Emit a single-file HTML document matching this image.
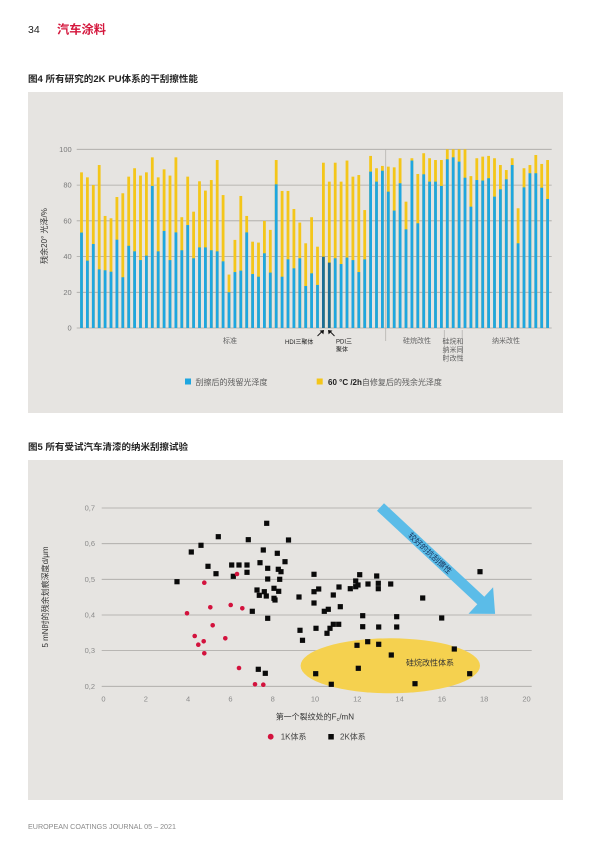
<!DOCTYPE html>
<html><head><meta charset="utf-8"><style>
html,body{margin:0;padding:0;background:#fff;}
svg{display:block;}
text{font-family:"Liberation Sans","Noto Sans CJK SC",sans-serif;}
</style></head><body>
<svg width="600" height="849" viewBox="0 0 600 849" xmlns="http://www.w3.org/2000/svg">
<rect width="600" height="849" fill="#fff"/>
<!-- header -->
<text x="28" y="33" font-size="10.5" fill="#222">34</text>
<text x="57" y="33.5" font-size="12" font-weight="bold" fill="#d4163c" textLength="49" lengthAdjust="spacingAndGlyphs">汽车涂料</text>
<text x="28" y="82" font-size="9" font-weight="bold" fill="#222" textLength="170" lengthAdjust="spacingAndGlyphs">图4 所有研究的2K PU体系的干刮擦性能</text>

<!-- panel 1 -->
<rect x="28" y="92" width="535" height="321" fill="#e6e4e1"/>
<g stroke="#a9a7a4" stroke-width="0.8">
<line x1="76.7" y1="328" x2="551.7" y2="328"/>
<line x1="76.7" y1="292.3" x2="551.7" y2="292.3"/>
<line x1="76.7" y1="256.6" x2="551.7" y2="256.6"/>
<line x1="76.7" y1="220.8" x2="551.7" y2="220.8"/>
<line x1="76.7" y1="185.1" x2="551.7" y2="185.1"/>
<line x1="76.7" y1="149.3" x2="551.7" y2="149.3"/>
</g>
<g stroke="#b5b3b0" stroke-width="0.8">
<line x1="385.7" y1="149" x2="385.7" y2="341"/>
<line x1="444.3" y1="330" x2="444.3" y2="362"/>
<line x1="462.2" y1="330" x2="462.2" y2="362"/>
</g>
<g font-size="7.5" fill="#7a7a7a" text-anchor="end">
<text x="71.7" y="330.5">0</text>
<text x="71.7" y="294.8">20</text>
<text x="71.7" y="259.1">40</text>
<text x="71.7" y="223.3">60</text>
<text x="71.7" y="187.6">80</text>
<text x="71.7" y="151.8">100</text>
</g>
<text transform="translate(47,236) rotate(-90)" font-size="8" fill="#333" text-anchor="middle">残余20° 光泽/%</text>

<!-- bars: yellow (total) -->
<g transform="translate(0,328) scale(1,-1.787)">
<g fill="#f4c619">
<rect x="80.1" width="2.8" height="87.1"/><rect x="86.0" width="2.8" height="84.3"/><rect x="91.9" width="2.8" height="80"/><rect x="97.8" width="2.8" height="91.2"/><rect x="103.7" width="2.8" height="62.7"/><rect x="109.6" width="2.8" height="61.4"/><rect x="115.5" width="2.8" height="73.3"/><rect x="121.4" width="2.8" height="75.4"/><rect x="127.3" width="2.8" height="84.7"/><rect x="133.2" width="2.8" height="89.4"/>
<rect x="139.1" width="2.8" height="85.3"/><rect x="145.0" width="2.8" height="87.1"/><rect x="150.9" width="2.8" height="95.5"/><rect x="156.8" width="2.8" height="84.3"/><rect x="162.7" width="2.8" height="88.8"/><rect x="168.6" width="2.8" height="85.3"/><rect x="174.5" width="2.8" height="95.5"/><rect x="180.4" width="2.8" height="62"/><rect x="186.3" width="2.8" height="84.7"/><rect x="192.2" width="2.8" height="65.1"/>
<rect x="198.1" width="2.8" height="82.1"/><rect x="204.0" width="2.8" height="76.9"/><rect x="209.9" width="2.8" height="82.8"/><rect x="215.8" width="2.8" height="94"/><rect x="221.7" width="2.8" height="74.4"/><rect x="227.6" width="2.8" height="29.9"/><rect x="233.5" width="2.8" height="49.3"/><rect x="239.4" width="2.8" height="73.9"/><rect x="245.3" width="2.8" height="62.7"/><rect x="251.2" width="2.8" height="48.3"/>
<rect x="257.1" width="2.8" height="47.8"/><rect x="263.0" width="2.8" height="59.9"/><rect x="268.9" width="2.8" height="54.9"/><rect x="274.8" width="2.8" height="94"/><rect x="280.7" width="2.8" height="76.7"/><rect x="286.6" width="2.8" height="76.7"/><rect x="292.5" width="2.8" height="66.6"/><rect x="298.4" width="2.8" height="59"/><rect x="304.3" width="2.8" height="47.4"/><rect x="310.2" width="2.8" height="62"/>
<rect x="316.1" width="2.8" height="45.5"/><rect x="322.0" width="2.8" height="92.5"/><rect x="327.9" width="2.8" height="81.9"/><rect x="333.8" width="2.8" height="92.5"/><rect x="339.7" width="2.8" height="81.9"/><rect x="345.6" width="2.8" height="93.7"/><rect x="351.5" width="2.8" height="84.7"/><rect x="357.4" width="2.8" height="85.6"/><rect x="363.3" width="2.8" height="66"/><rect x="369.2" width="2.8" height="96.3"/>
<rect x="375.1" width="2.8" height="89.4"/><rect x="381.0" width="2.8" height="90.7"/><rect x="386.9" width="2.8" height="90.3"/><rect x="392.8" width="2.8" height="89.9"/><rect x="398.7" width="2.8" height="95"/><rect x="404.6" width="2.8" height="70.7"/><rect x="410.5" width="2.8" height="95"/><rect x="416.4" width="2.8" height="86.2"/><rect x="422.3" width="2.8" height="97.8"/><rect x="428.2" width="2.8" height="95"/>
<rect x="434.1" width="2.8" height="94"/><rect x="440.0" width="2.8" height="94"/><rect x="445.9" width="2.8" height="100"/><rect x="451.8" width="2.8" height="100"/><rect x="457.7" width="2.8" height="100"/><rect x="463.6" width="2.8" height="100"/><rect x="469.5" width="2.8" height="85"/><rect x="475.4" width="2.8" height="95"/><rect x="481.3" width="2.8" height="95.9"/><rect x="487.2" width="2.8" height="96.3"/>
<rect x="493.1" width="2.8" height="95"/><rect x="499.0" width="2.8" height="91.2"/><rect x="504.9" width="2.8" height="88.4"/><rect x="510.8" width="2.8" height="95"/><rect x="516.7" width="2.8" height="67"/><rect x="522.6" width="2.8" height="89.4"/><rect x="528.5" width="2.8" height="91.2"/><rect x="534.4" width="2.8" height="96.8"/><rect x="540.3" width="2.8" height="91.8"/><rect x="546.2" width="2.8" height="94"/>
</g>
<g fill="#1ea6e0">
<rect x="80.1" width="2.8" height="53.4"/><rect x="86.0" width="2.8" height="37.7"/><rect x="91.9" width="2.8" height="47"/><rect x="97.8" width="2.8" height="32.8"/><rect x="103.7" width="2.8" height="32.3"/><rect x="109.6" width="2.8" height="31.5"/><rect x="115.5" width="2.8" height="49.4"/><rect x="121.4" width="2.8" height="28.4"/><rect x="127.3" width="2.8" height="46"/><rect x="133.2" width="2.8" height="42.9"/>
<rect x="139.1" width="2.8" height="38"/><rect x="145.0" width="2.8" height="40.5"/><rect x="150.9" width="2.8" height="79.5"/><rect x="156.8" width="2.8" height="42.9"/><rect x="162.7" width="2.8" height="54.3"/><rect x="168.6" width="2.8" height="38"/><rect x="174.5" width="2.8" height="53.5"/><rect x="180.4" width="2.8" height="43.5"/><rect x="186.3" width="2.8" height="57.6"/><rect x="192.2" width="2.8" height="39"/>
<rect x="198.1" width="2.8" height="45.1"/><rect x="204.0" width="2.8" height="45.1"/><rect x="209.9" width="2.8" height="43.5"/><rect x="215.8" width="2.8" height="42.9"/><rect x="221.7" width="2.8" height="37.3"/><rect x="227.6" width="2.8" height="20"/><rect x="233.5" width="2.8" height="31.3"/><rect x="239.4" width="2.8" height="32.1"/><rect x="245.3" width="2.8" height="53.5"/><rect x="251.2" width="2.8" height="30.2"/>
<rect x="257.1" width="2.8" height="28.7"/><rect x="263.0" width="2.8" height="41.8"/><rect x="268.9" width="2.8" height="31"/><rect x="274.8" width="2.8" height="80.4"/><rect x="280.7" width="2.8" height="28.7"/><rect x="286.6" width="2.8" height="38.4"/><rect x="292.5" width="2.8" height="33.4"/><rect x="298.4" width="2.8" height="39"/><rect x="304.3" width="2.8" height="23.5"/><rect x="310.2" width="2.8" height="30.6"/>
<rect x="316.1" width="2.8" height="24.1"/><rect x="333.8" width="2.8" height="39"/><rect x="339.7" width="2.8" height="35.8"/><rect x="345.6" width="2.8" height="39.4"/><rect x="351.5" width="2.8" height="38"/><rect x="357.4" width="2.8" height="31.3"/><rect x="363.3" width="2.8" height="38.4"/><rect x="369.2" width="2.8" height="87.5"/>
<rect x="375.1" width="2.8" height="81.9"/><rect x="381.0" width="2.8" height="88"/><rect x="386.9" width="2.8" height="76.3"/><rect x="392.8" width="2.8" height="65.7"/><rect x="398.7" width="2.8" height="81"/><rect x="404.6" width="2.8" height="55.2"/><rect x="410.5" width="2.8" height="93.7"/><rect x="416.4" width="2.8" height="58.6"/><rect x="422.3" width="2.8" height="86"/><rect x="428.2" width="2.8" height="81.9"/>
<rect x="434.1" width="2.8" height="81.9"/><rect x="440.0" width="2.8" height="79.5"/><rect x="445.9" width="2.8" height="94.4"/><rect x="451.8" width="2.8" height="95.5"/><rect x="457.7" width="2.8" height="93.1"/><rect x="463.6" width="2.8" height="84.1"/><rect x="469.5" width="2.8" height="67.9"/><rect x="475.4" width="2.8" height="82.8"/><rect x="481.3" width="2.8" height="82.5"/><rect x="487.2" width="2.8" height="83.8"/>
<rect x="493.1" width="2.8" height="73.5"/><rect x="499.0" width="2.8" height="77.6"/><rect x="504.9" width="2.8" height="83.2"/><rect x="510.8" width="2.8" height="91.2"/><rect x="516.7" width="2.8" height="47.4"/><rect x="522.6" width="2.8" height="78.7"/><rect x="528.5" width="2.8" height="86.6"/><rect x="534.4" width="2.8" height="86.6"/><rect x="540.3" width="2.8" height="78.5"/><rect x="546.2" width="2.8" height="72.2"/>
</g>
<g fill="#1b6d96">
<rect x="322.0" width="2.8" height="39.9"/><rect x="327.9" width="2.8" height="36.6"/>
</g>
</g>

<!-- small arrows -->
<g stroke="#111" stroke-width="0.9" fill="#111">
<line x1="317.5" y1="336" x2="321.5" y2="332"/>
<polygon points="324,330 319.6,330.6 323.4,334.4" stroke="none"/>
<line x1="334.5" y1="336" x2="330.5" y2="332"/>
<polygon points="328,330 332.4,330.6 328.6,334.4" stroke="none"/>
</g>
<!-- category labels -->
<g font-size="7" fill="#666">
<text x="230" y="343" text-anchor="middle">标准</text>
<text x="403" y="343">硅烷改性</text>
<text x="442.5" y="343.5">硅烷和</text>
<text x="442.5" y="352">纳米同</text>
<text x="442.5" y="360.5">时改性</text>
<text x="492" y="343">纳米改性</text>
</g>
<g font-size="6" fill="#222">
<text x="285" y="344">HDI三聚体</text>
<text x="336" y="343.5">PDI三</text>
<text x="336" y="351.5">聚体</text>
</g>
<!-- legend 1 -->
<rect x="185" y="378.5" width="6" height="6" fill="#1ea6e0"/>
<text x="195.5" y="385" font-size="8" fill="#5a5a5a">刮擦后的残留光泽度</text>
<rect x="316.7" y="378.5" width="6" height="6" fill="#f4c619"/>
<text x="328" y="385" font-size="8" fill="#5a5a5a"><tspan font-weight="bold" fill="#222">60 °C /2h</tspan>自修复后的残余光泽度</text>

<!-- figure 5 -->
<text x="28" y="450" font-size="9" font-weight="bold" fill="#222" textLength="160" lengthAdjust="spacingAndGlyphs">图5 所有受试汽车清漆的纳米刮擦试验</text>
<rect x="28" y="460" width="535" height="340" fill="#e6e4e1"/>
<g stroke="#a9a7a4" stroke-width="0.8">
<line x1="101.7" y1="686.3" x2="531.7" y2="686.3"/>
<line x1="101.7" y1="650.6" x2="531.7" y2="650.6"/>
<line x1="101.7" y1="615.0" x2="531.7" y2="615.0"/>
<line x1="101.7" y1="579.3" x2="531.7" y2="579.3"/>
<line x1="101.7" y1="543.7" x2="531.7" y2="543.7"/>
<line x1="101.7" y1="508.0" x2="531.7" y2="508.0"/>
</g>
<g font-size="7.5" fill="#8a8a8a" text-anchor="end">
<text x="95" y="688.8">0,2</text>
<text x="95" y="653.1">0,3</text>
<text x="95" y="617.5">0,4</text>
<text x="95" y="581.8">0,5</text>
<text x="95" y="546.2">0,6</text>
<text x="95" y="510.5">0,7</text>
</g>
<g font-size="7.5" fill="#8a8a8a" text-anchor="middle">
<text x="103.5" y="701.5">0</text>
<text x="145.8" y="701.5">2</text>
<text x="188.1" y="701.5">4</text>
<text x="230.4" y="701.5">6</text>
<text x="272.7" y="701.5">8</text>
<text x="315" y="701.5">10</text>
<text x="357.3" y="701.5">12</text>
<text x="399.6" y="701.5">14</text>
<text x="441.9" y="701.5">16</text>
<text x="484.2" y="701.5">18</text>
<text x="526.5" y="701.5">20</text>
</g>
<text transform="translate(48,597) rotate(-90)" font-size="8" fill="#333" text-anchor="middle">5 mN时的残余划痕深度d/μm</text>

<ellipse cx="390.3" cy="665.8" rx="89.7" ry="27.5" fill="#f5d14f"/>
<text x="430" y="665.5" font-size="8" fill="#333" text-anchor="middle">硅烷改性体系</text>

<polygon points="384.0,503.2 484.3,596.7 493.1,587.3 495.1,613.9 468.5,613.7 477.3,604.3 377.0,510.8" fill="#5bbce8"/>
<text transform="translate(430,553.3) rotate(43)" font-size="8" fill="#16325c" text-anchor="middle" dy="2.8">较好的抗刮擦性</text>

<!-- 2K black squares -->
<g fill="#0a0a0a" transform="translate(-2.6,-2.6)">
<rect x="177" y="581.7" width="5.2" height="5.2"/><rect x="191.3" y="552" width="5.2" height="5.2"/><rect x="201" y="545.3" width="5.2" height="5.2"/><rect x="218.3" y="536.7" width="5.2" height="5.2"/><rect x="208" y="566.3" width="5.2" height="5.2"/><rect x="216" y="573.7" width="5.2" height="5.2"/><rect x="231.7" y="565" width="5.2" height="5.2"/><rect x="239" y="565" width="5.2" height="5.2"/><rect x="233.3" y="576.3" width="5.2" height="5.2"/><rect x="247" y="565" width="5.2" height="5.2"/>
<rect x="247" y="572.3" width="5.2" height="5.2"/><rect x="248.3" y="539.7" width="5.2" height="5.2"/><rect x="266.7" y="523.3" width="5.2" height="5.2"/><rect x="263.3" y="550" width="5.2" height="5.2"/><rect x="260" y="562.7" width="5.2" height="5.2"/><rect x="267.7" y="568.3" width="5.2" height="5.2"/><rect x="267.7" y="579" width="5.2" height="5.2"/><rect x="277.3" y="553.3" width="5.2" height="5.2"/><rect x="285" y="561.7" width="5.2" height="5.2"/><rect x="288.5" y="540" width="5.2" height="5.2"/>
<rect x="278.3" y="569.3" width="5.2" height="5.2"/><rect x="281" y="571.7" width="5.2" height="5.2"/><rect x="279.7" y="579.3" width="5.2" height="5.2"/><rect x="257" y="590" width="5.2" height="5.2"/><rect x="259.3" y="595.3" width="5.2" height="5.2"/><rect x="264.3" y="591.7" width="5.2" height="5.2"/><rect x="266.3" y="596" width="5.2" height="5.2"/><rect x="274" y="588.3" width="5.2" height="5.2"/><rect x="278.7" y="591.3" width="5.2" height="5.2"/><rect x="275" y="600" width="5.2" height="5.2"/>
<rect x="274" y="598.3" width="5.2" height="5.2"/><rect x="252.3" y="611.3" width="5.2" height="5.2"/><rect x="267.7" y="618.3" width="5.2" height="5.2"/><rect x="299" y="597" width="5.2" height="5.2"/><rect x="300" y="630.3" width="5.2" height="5.2"/><rect x="302.5" y="640.3" width="5.2" height="5.2"/><rect x="258.3" y="669.3" width="5.2" height="5.2"/><rect x="265.3" y="673.3" width="5.2" height="5.2"/>
<rect x="314" y="574.3" width="5.2" height="5.2"/><rect x="314" y="591.7" width="5.2" height="5.2"/><rect x="318.7" y="589" width="5.2" height="5.2"/><rect x="314" y="603" width="5.2" height="5.2"/><rect x="333.3" y="595" width="5.2" height="5.2"/><rect x="339" y="587" width="5.2" height="5.2"/><rect x="324.3" y="611.3" width="5.2" height="5.2"/><rect x="328.3" y="609.3" width="5.2" height="5.2"/><rect x="340.3" y="606.7" width="5.2" height="5.2"/><rect x="316" y="628.3" width="5.2" height="5.2"/>
<rect x="327" y="633.3" width="5.2" height="5.2"/><rect x="330" y="628.3" width="5.2" height="5.2"/><rect x="333.3" y="624.3" width="5.2" height="5.2"/><rect x="338.7" y="624.3" width="5.2" height="5.2"/><rect x="359.7" y="574.7" width="5.2" height="5.2"/><rect x="355.7" y="581" width="5.2" height="5.2"/><rect x="355.7" y="586.7" width="5.2" height="5.2"/><rect x="350.3" y="588.7" width="5.2" height="5.2"/><rect x="358" y="585" width="5.2" height="5.2"/><rect x="368" y="584" width="5.2" height="5.2"/>
<rect x="376.7" y="576" width="5.2" height="5.2"/><rect x="378.3" y="583.3" width="5.2" height="5.2"/><rect x="378.3" y="588.7" width="5.2" height="5.2"/><rect x="390.7" y="584" width="5.2" height="5.2"/><rect x="362.7" y="615.7" width="5.2" height="5.2"/><rect x="362.7" y="626.7" width="5.2" height="5.2"/><rect x="378.7" y="627" width="5.2" height="5.2"/><rect x="396.7" y="616.7" width="5.2" height="5.2"/><rect x="396.7" y="627" width="5.2" height="5.2"/><rect x="422.7" y="598" width="5.2" height="5.2"/>
<rect x="441.7" y="618" width="5.2" height="5.2"/><rect x="480" y="571.7" width="5.2" height="5.2"/><rect x="357" y="645.3" width="5.2" height="5.2"/><rect x="367.7" y="641.7" width="5.2" height="5.2"/><rect x="378.7" y="644.3" width="5.2" height="5.2"/><rect x="391.3" y="655" width="5.2" height="5.2"/><rect x="454.3" y="649" width="5.2" height="5.2"/><rect x="358.3" y="668.3" width="5.2" height="5.2"/><rect x="315.7" y="673.7" width="5.2" height="5.2"/><rect x="331.3" y="684.3" width="5.2" height="5.2"/>
<rect x="415" y="683.7" width="5.2" height="5.2"/><rect x="469.7" y="673.7" width="5.2" height="5.2"/>
</g>
<!-- 1K red circles -->
<g fill="#d3123d">
<circle cx="204.3" cy="582.7" r="2.3"/><circle cx="237" cy="574" r="2.3"/><circle cx="187" cy="613.3" r="2.3"/><circle cx="210.3" cy="607.3" r="2.3"/><circle cx="230.7" cy="605" r="2.3"/><circle cx="242.3" cy="608.3" r="2.3"/><circle cx="212.7" cy="625.3" r="2.3"/><circle cx="194.7" cy="636" r="2.3"/><circle cx="198.3" cy="644.7" r="2.3"/><circle cx="203.7" cy="641.3" r="2.3"/>
<circle cx="204.3" cy="653.3" r="2.3"/><circle cx="225.3" cy="638.3" r="2.3"/><circle cx="239" cy="668" r="2.3"/><circle cx="255" cy="684.3" r="2.3"/><circle cx="263.3" cy="684.7" r="2.3"/>
</g>

<text x="275.7" y="719.5" font-size="8" fill="#333">第一个裂纹处的F<tspan font-size="5.5" dy="1.5">c</tspan><tspan dy="-1.5">/mN</tspan></text>
<circle cx="270.7" cy="736.7" r="2.9" fill="#d3123d"/>
<text x="280.7" y="739.5" font-size="8" fill="#444">1K体系</text>
<rect x="328.3" y="734" width="5.5" height="5.5" fill="#0a0a0a"/>
<text x="340" y="739.5" font-size="8" fill="#444">2K体系</text>

<!-- footer -->
<text x="28" y="829" font-size="7" fill="#8a8a8a" textLength="148" lengthAdjust="spacingAndGlyphs">EUROPEAN COATINGS JOURNAL 05 – 2021</text>
</svg>
</body></html>
